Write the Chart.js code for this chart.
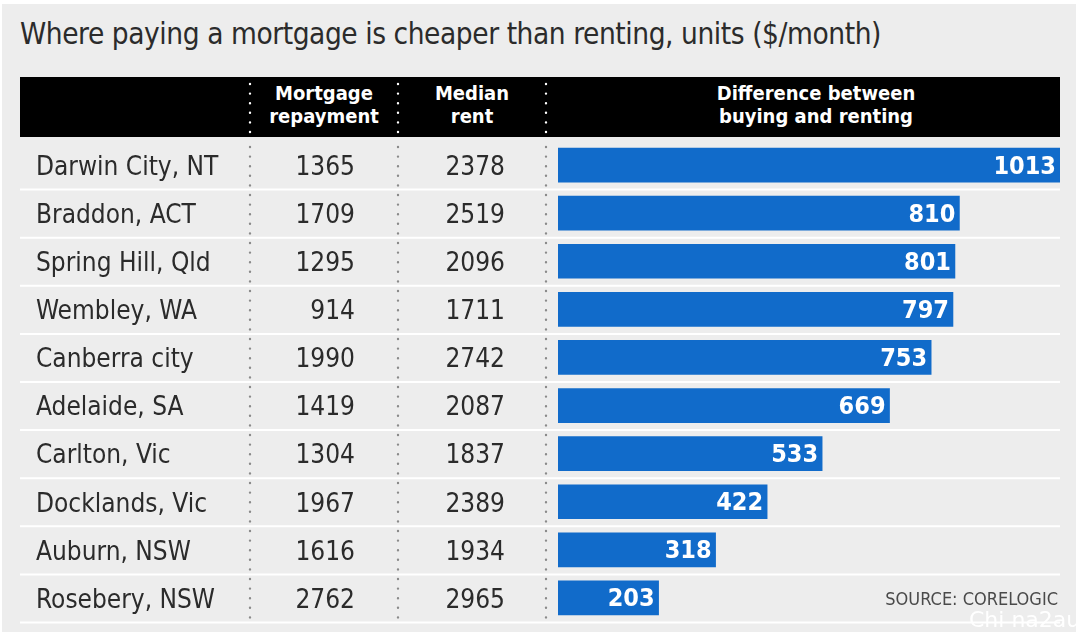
<!DOCTYPE html>
<html>
<head>
<meta charset="utf-8">
<style>
  html, body { margin: 0; padding: 0; background: #fff; }
  #wrap { position: relative; width: 1080px; height: 632px; overflow: hidden; }
  #panel { position: absolute; left: 2px; top: 4px; right: 4px; bottom: 0; background: #ededed; }
  #title { position: absolute; left: 20px; top: 17px; font: 29.5px "DejaVu Sans Condensed", "DejaVu Sans", sans-serif; letter-spacing: -0.43px; color: #2b2b2b; white-space: nowrap; }
  #head { position: absolute; left: 20px; top: 77px; width: 1040px; height: 60px; background: #000; }
  .hd { position: absolute; top: 5px; color: #fff; text-align: center; font: bold 20px/23px "DejaVu Sans Condensed", sans-serif; transform: translateX(-50%); white-space: nowrap; }
  .wm { position: absolute; left: 969px; top: 607px; color: #fff; font: 22px "DejaVu Sans", sans-serif; white-space: nowrap; }
  canvas { position: absolute; left: 0; top: 0; }
</style>
<script src="https://cdn.jsdelivr.net/npm/chart.js@4"></script>
</head>
<body>
<div id="wrap">
  <div id="panel"></div>
  <div id="title">Where paying a mortgage is cheaper than renting, units ($/month)</div>
  <div id="head">
    <div class="hd" style="left:304px">Mortgage<br>repayment</div>
    <div class="hd" style="left:452px">Median<br>rent</div>
    <div class="hd" style="left:796px">Difference between<br>buying and renting</div>
  </div>
  <canvas id="chart" width="1080" height="632"></canvas>
  <div class="wm">Chi na2au</div>
</div>
<script>
const suburbs = ['Darwin City, NT', 'Braddon, ACT', 'Spring Hill, Qld', 'Wembley, WA', 'Canberra city', 'Adelaide, SA', 'Carlton, Vic', 'Docklands, Vic', 'Auburn, NSW', 'Rosebery, NSW'];
const mortgage = [1365, 1709, 1295, 914, 1990, 1419, 1304, 1967, 1616, 2762];
const rent = [2378, 2519, 2096, 1711, 2742, 2087, 1837, 2389, 1934, 2965];
const difference = [1013, 810, 801, 797, 753, 669, 533, 422, 318, 203];

const FONT = '"DejaVu Sans Condensed", "DejaVu Sans", sans-serif';

function dotted(ctx, x, y1, y2, color) {
  ctx.save();
  ctx.strokeStyle = color;
  ctx.lineWidth = 2.4;
  ctx.lineCap = 'round';
  ctx.setLineDash([0, 9.6]);
  ctx.beginPath();
  ctx.moveTo(x, y1);
  ctx.lineTo(x, y2);
  ctx.stroke();
  ctx.restore();
}

// table rows, separators and dotted rules around the bars
const tablePlugin = {
  id: 'table',
  beforeDatasetsDraw(chart) {
    const { ctx, chartArea, scales: { y } } = chart;
    const step = y.getPixelForValue(1) - y.getPixelForValue(0);
    ctx.save();
    ctx.strokeStyle = '#fff';
    ctx.lineWidth = 2;
    suburbs.forEach((s, i) => {
      const yy = y.getPixelForValue(i) + step / 2 + 0.5;
      ctx.beginPath();
      ctx.moveTo(20, yy);
      ctx.lineTo(1060, yy);
      ctx.stroke();
    });
    ctx.restore();
    [250, 398, 546].forEach(x => {
      dotted(ctx, x, 84, 134, '#fff');
      dotted(ctx, x, 147, chartArea.bottom, '#8a8a8a');
    });
  },
  afterDatasetsDraw(chart) {
    const { ctx, scales: { y } } = chart;
    ctx.save();
    ctx.fillStyle = '#2b2b2b';
    ctx.textBaseline = 'middle';
    ctx.font = '26px ' + FONT;
    suburbs.forEach((s, i) => {
      const yy = y.getPixelForValue(i) + 3;
      ctx.textAlign = 'left';
      ctx.fillText(s, 36, yy);
      ctx.textAlign = 'right';
      ctx.fillText(mortgage[i], 355, yy);
      ctx.fillText(rent[i], 505, yy);
    });
    // value labels inside the bar ends
    ctx.fillStyle = '#fff';
    ctx.font = 'bold 25px ' + FONT;
    chart.getDatasetMeta(0).data.forEach((bar, i) => {
      ctx.fillText(difference[i], bar.x - 4, bar.y + 2);
    });
    ctx.fillStyle = '#4a4a4a';
    ctx.font = '18px ' + FONT;
    ctx.fillText('SOURCE: CORELOGIC', 1058, y.getPixelForValue(9) + 2);
    ctx.restore();
  }
};

new Chart(document.getElementById('chart'), {
  type: 'bar',
  data: {
    labels: suburbs,
    datasets: [{
      data: difference,
      backgroundColor: '#116bca',
      borderWidth: 0,
      barThickness: 34
    }]
  },
  options: {
    indexAxis: 'y',
    responsive: false,
    animation: false,
    layout: { padding: { left: 558, right: 20, top: 141, bottom: 10 } },
    plugins: { legend: { display: false }, tooltip: { enabled: false } },
    scales: {
      x: { display: false, min: 0, max: 1013 },
      y: { display: false }
    }
  },
  plugins: [tablePlugin]
});
</script>
</body>
</html>
